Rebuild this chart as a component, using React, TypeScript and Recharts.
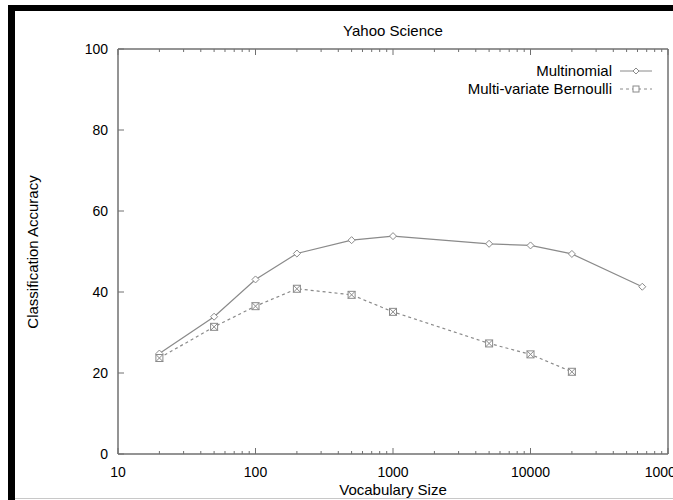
import React from 'react';
import { LineChart, Line, XAxis, YAxis, Legend } from 'recharts';

// values (Yahoo Science)
const VOCAB_SIZES = [20, 50, 100, 200, 500, 1000, 5000, 10000, 20000, 65000];
const MULTINOMIAL = [24.8, 33.9, 43.1, 49.5, 52.8, 53.8, 51.9, 51.5, 49.4, 41.3];
const BERNOULLI = [23.7, 31.4, 36.5, 40.8, 39.3, 35.1, 27.3, 24.6, 20.3, null];

const X_MAJOR = [10, 100, 1000, 10000, 100000];
const X_MINOR_STEPS = [2, 3, 4, 5, 6, 7, 8, 9];
const Y_TICKS = [0, 20, 40, 60, 80, 100];

const X_TICKS = [
  ...X_MAJOR,
  ...X_MAJOR.slice(0, -1).flatMap((d) => X_MINOR_STEPS.map((m) => d * m)),
].sort((a, b) => a - b);

const rows = VOCAB_SIZES.map((size, i) => ({
  size,
  multinomial: MULTINOMIAL[i],
  bernoulli: BERNOULLI[i],
}));

const FONT = '"Liberation Sans", Arial, Helvetica, sans-serif';
const AXIS = '#707070';
const LINE = '#8a8a8a';

const diamond = (cx: number, cy: number, r = 3.5) =>
  `M${cx},${cy - r}L${cx + r},${cy}L${cx},${cy + r}L${cx - r},${cy}Z`;

const DiamondDot = (p: any) => {
  if (p.cx == null || p.cy == null) return <g key={p.key} />;
  return <path key={p.key} d={diamond(p.cx, p.cy)} fill="#fff" stroke={LINE} strokeWidth={1} />;
};

const BoxDot = (p: any) => {
  if (p.cx == null || p.cy == null) return <g key={p.key} />;
  const { cx, cy } = p;
  const r = 3.5;
  return (
    <g key={p.key} stroke={LINE} strokeWidth={1} fill="#fff">
      <rect x={cx - r} y={cy - r} width={r * 2} height={r * 2} />
      <path d={`M${cx - r},${cy - r}L${cx + r},${cy + r}M${cx + r},${cy - r}L${cx - r},${cy + r}`} />
    </g>
  );
};

const SERIES = [
  { key: 'multinomial', name: 'Multinomial', dash: undefined, Dot: DiamondDot },
  { key: 'bernoulli', name: 'Multi-variate Bernoulli', dash: '3 3', Dot: BoxDot },
];

const BottomTick = ({ x, y, payload }: any) => {
  const major = X_MAJOR.includes(payload.value);
  return (
    <g>
      <line x1={x} x2={x} y1={y} y2={y - (major ? 6 : 3)} stroke={AXIS} />
      {major && (
        <text x={x} y={y + 18} dy="0.35em" textAnchor="middle" fontSize={14} fontFamily={FONT} fill="#000">
          {payload.value}
        </text>
      )}
    </g>
  );
};

const TopTick = ({ x, y, payload }: any) => {
  const major = X_MAJOR.includes(payload.value);
  return <line x1={x} x2={x} y1={y} y2={y + (major ? 6 : 3)} stroke={AXIS} />;
};

const LeftTick = ({ x, y, payload }: any) => (
  <g>
    <line x1={x} x2={x + 6} y1={y} y2={y} stroke={AXIS} />
    <text x={x - 10} y={y} dy="0.35em" textAnchor="end" fontSize={14} fontFamily={FONT} fill="#000">
      {payload.value}
    </text>
  </g>
);

const RightTick = ({ x, y }: any) => <line x1={x} x2={x - 6} y1={y} y2={y} stroke={AXIS} />;

const LegendBox = () => (
  <div style={{ fontFamily: FONT, fontSize: 15, color: '#000' }}>
    {SERIES.map((s) => (
      <div key={s.key} style={{ display: 'flex', justifyContent: 'flex-end', alignItems: 'center', height: 18 }}>
        <span style={{ lineHeight: '18px' }}>{s.name}</span>
        <svg width={32} height={10} style={{ marginLeft: 8 }}>
          <line x1={0} x2={32} y1={5} y2={5} stroke={LINE} strokeDasharray={s.dash} />
          {s.key === 'multinomial' ? (
            <path d={diamond(16, 5, 3)} fill="#fff" stroke={LINE} />
          ) : (
            <rect x={13} y={2} width={6} height={6} fill="#fff" stroke={LINE} />
          )}
        </svg>
      </div>
    ))}
  </div>
);

const App: React.FC = () => {
  return (
    <div style={{ position: 'absolute', left: 0, top: 0, width: 673, height: 500, background: '#fff', overflow: 'hidden' }}>
      <svg width={673} height={500} style={{ position: 'absolute', left: 0, top: 0 }}>
        <rect x={8} y={5} width={665} height={6} fill="#000" />
        <rect x={8} y={5} width={7} height={495} fill="#000" />
        <line x1={15} x2={673} y1={498.5} y2={498.5} stroke="#c8c8c8" />
        <text x={393} y={31} dy="0.35em" textAnchor="middle" fontSize={15} fontFamily={FONT} fill="#000">
          Yahoo Science
        </text>
        <text x={393} y={490} dy="0.35em" textAnchor="middle" fontSize={15} fontFamily={FONT} fill="#000">
          Vocabulary Size
        </text>
        <text
          x={33}
          y={252}
          dy="0.35em"
          textAnchor="middle"
          fontSize={15}
          fontFamily={FONT}
          fill="#000"
          transform="rotate(-90 33 252)"
        >
          Classification Accuracy
        </text>
      </svg>
      <div style={{ position: 'absolute', left: 0, top: 0 }}>
        <LineChart width={673} height={500} data={rows} margin={{ top: 48, right: 0, bottom: 0, left: 0 }}>
          <XAxis
            dataKey="size"
            type="number"
            scale="log"
            domain={[10, 100000]}
            ticks={X_TICKS}
            interval={0}
            allowDataOverflow
            height={46}
            tickSize={0}
            tickMargin={0}
            tickLine={false}
            axisLine={{ stroke: AXIS, strokeWidth: 1.5 }}
            tick={(p: any) => <BottomTick {...p} />}
          />
          <XAxis
            xAxisId="top"
            orientation="top"
            dataKey="size"
            type="number"
            scale="log"
            domain={[10, 100000]}
            ticks={X_TICKS}
            interval={0}
            allowDataOverflow
            height={1}
            tickSize={0}
            tickMargin={0}
            tickLine={false}
            axisLine={{ stroke: AXIS, strokeWidth: 1.5 }}
            tick={(p: any) => <TopTick {...p} />}
          />
          <YAxis
            type="number"
            domain={[0, 100]}
            ticks={Y_TICKS}
            interval={0}
            width={118}
            tickSize={0}
            tickMargin={0}
            tickLine={false}
            axisLine={{ stroke: AXIS, strokeWidth: 1.5 }}
            tick={(p: any) => <LeftTick {...p} />}
          />
          <YAxis
            yAxisId="right"
            orientation="right"
            type="number"
            domain={[0, 100]}
            ticks={Y_TICKS}
            interval={0}
            width={5}
            tickSize={0}
            tickMargin={0}
            tickLine={false}
            axisLine={{ stroke: AXIS, strokeWidth: 1.5 }}
            tick={(p: any) => <RightTick {...p} />}
          />
          <Legend
            layout="horizontal"
            verticalAlign="middle"
            align="center"
            wrapperStyle={{ top: 62, left: 420, width: 232 }}
            content={() => <LegendBox />}
          />
          {SERIES.map((s) => (
            <Line
              key={s.key}
              dataKey={s.key}
              name={s.name}
              stroke={LINE}
              strokeWidth={1.2}
              strokeDasharray={s.dash}
              dot={(p: any) => <s.Dot {...p} />}
              isAnimationActive={false}
            />
          ))}
        </LineChart>
      </div>
    </div>
  );
};

export default App;
